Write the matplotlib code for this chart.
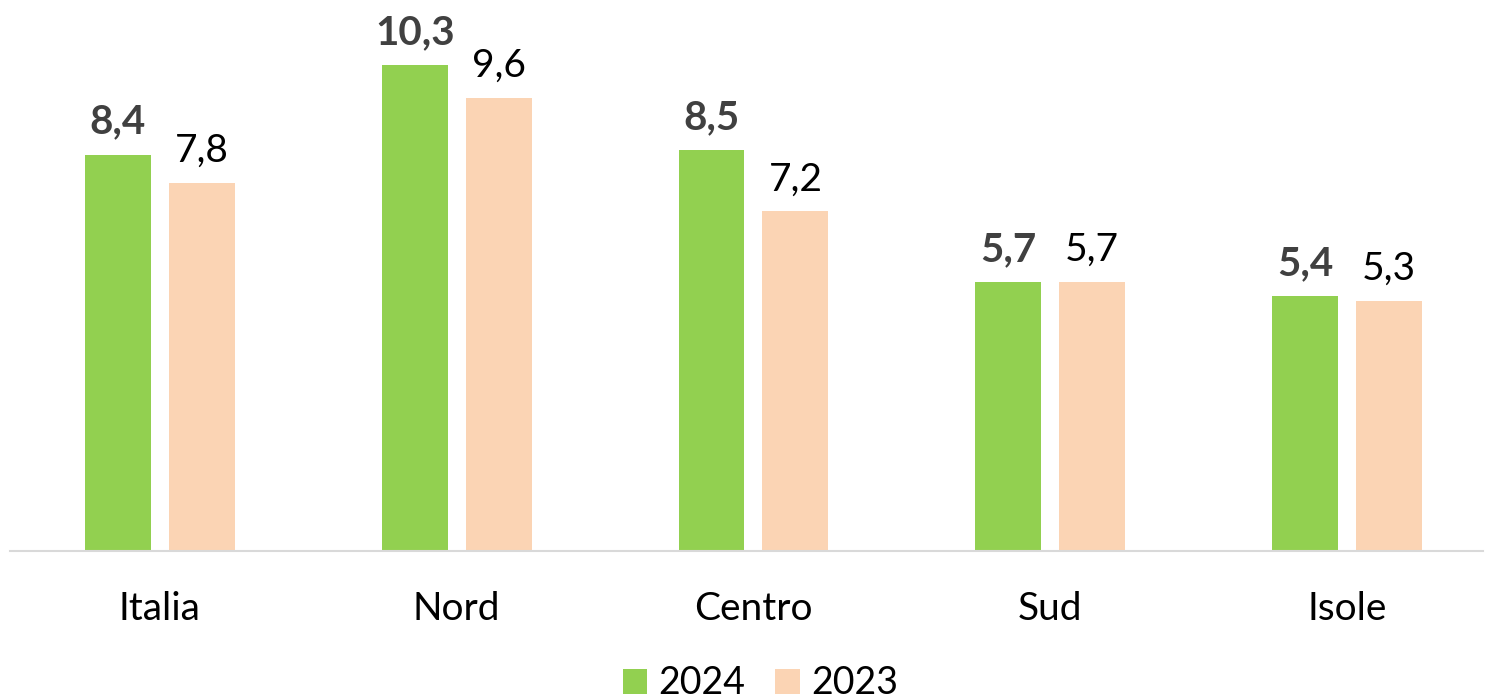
import numpy as np
import matplotlib.pyplot as plt

plt.rcParams['font.family'] = ['Lato', 'DejaVu Sans']

categories = ["Italia", "Nord", "Centro", "Sud", "Isole"]
values_2024 = [8.4, 10.3, 8.5, 5.7, 5.4]
values_2023 = [7.8, 9.6, 7.2, 5.7, 5.3]

GREEN = "#92D050"
PEACH = "#FBD4B4"

fig = plt.figure(figsize=(14.91, 7.0), dpi=100)
ax = fig.add_axes([10 / 1491, 1 - 551 / 700, 1473 / 1491, 551 / 700])

x = np.arange(len(categories))
w = 0.222
off = 0.1414

b1 = ax.bar(x - off, values_2024, w, color=GREEN, label="2024")
b2 = ax.bar(x + off, values_2023, w, color=PEACH, label="2023")

fmt = lambda v: f"{v:.1f}".replace(".", ",")
ax.bar_label(b1, labels=[fmt(v) for v in values_2024], padding=10,
             fontsize=29, fontweight="bold", color="#404040")
ax.bar_label(b2, labels=[fmt(v) for v in values_2023], padding=10,
             fontsize=28, color="black")

ax.set_xlim(-0.505, 4.458)
ax.set_ylim(0, 551 / 47.2)
ax.set_xticks(x)
ax.set_xticklabels(categories, fontsize=28)
ax.tick_params(axis="x", length=0, pad=29)
ax.set_yticks([])
for s in ["top", "right", "left"]:
    ax.spines[s].set_visible(False)
ax.spines["bottom"].set_color("#D9D9D9")
ax.spines["bottom"].set_linewidth(1.5)

fig.legend(loc="center", bbox_to_anchor=(0.51, 0.024), ncol=2, frameon=False,
           fontsize=27, handlelength=0.65, handleheight=0.65,
           handletextpad=0.3, columnspacing=0.8)

fig.savefig("out.png", dpi=100)
